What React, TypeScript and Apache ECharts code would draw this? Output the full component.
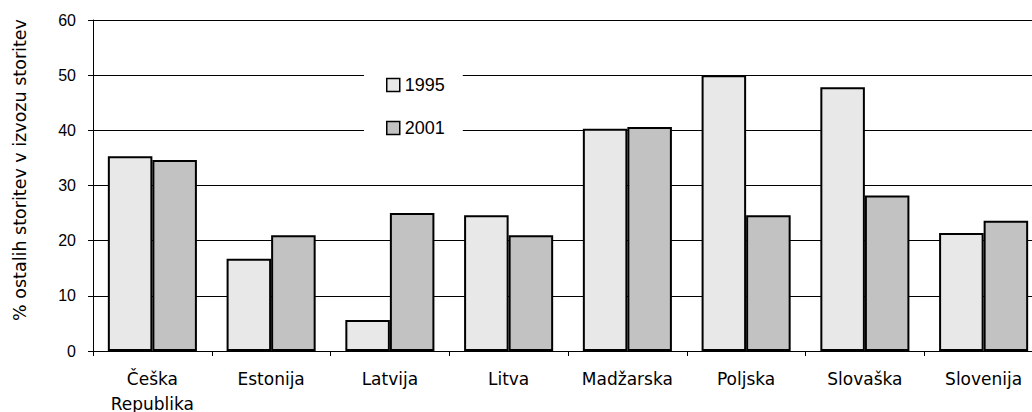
import React, { useEffect, useRef } from "react";
import * as echarts from "echarts";

const categories = ["Češka\nRepublika", "Estonija", "Latvija", "Litva", "Madžarska", "Poljska", "Slovaška", "Slovenija"];
const values1995 = [35.3, 16.7, 5.6, 24.6, 40.3, 50.0, 47.8, 21.4];
const values2001 = [34.6, 21.0, 25.0, 21.0, 40.6, 24.6, 28.2, 23.6];
const seriesNames = ["1995", "2001"];
const yTicks = { min: 0, max: 60, interval: 10 };
const yAxisTitle = "% ostalih storitev v izvozu storitev";

export default function App() {
  const ref = useRef<HTMLDivElement>(null);
  useEffect(() => {
    if (!ref.current) return;
    const chart = echarts.init(ref.current, null, { renderer: "svg" });
    chart.setOption({
      animation: false,
      backgroundColor: "#fff",
      grid: { left: 93, right: -11, top: 20, bottom: 61, containLabel: false, outerBoundsMode: "none" },
      legend: {
        data: seriesNames,
        orient: "vertical",
        left: 364,
        top: 62,
        padding: [14, 18, 14, 22],
        itemGap: 25,
        itemWidth: 13,
        itemHeight: 13,
        icon: "rect",
        backgroundColor: "#fff",
        textStyle: { fontFamily: "Liberation Sans", fontSize: 18, color: "#000" },
        itemStyle: { borderWidth: 1.5, borderColor: "#000" },
      },
      xAxis: {
        type: "category",
        data: categories,
        axisLine: { lineStyle: { color: "#000", width: 1 } },
        axisTick: { show: true, length: 5, alignWithLabel: false, lineStyle: { color: "#000" } },
        axisLabel: {
          interval: 0,
          margin: 15,
          color: "#000",
          fontFamily: "DejaVu Sans",
          fontSize: 17,
          lineHeight: 25,
        },
        splitLine: { show: false },
      },
      yAxis: {
        type: "value",
        min: yTicks.min,
        max: yTicks.max,
        interval: yTicks.interval,
        axisLine: { show: true, lineStyle: { color: "#000", width: 1 } },
        axisTick: { show: true, length: 5, lineStyle: { color: "#000" } },
        axisLabel: { margin: 17, color: "#000", fontFamily: "Liberation Sans", fontSize: 16 },
        splitLine: { show: true, lineStyle: { color: "#000", width: 1 } },
      },
      graphic: [
        {
          type: "text",
          x: 20,
          y: 170,
          rotation: Math.PI / 2,
          style: {
            text: yAxisTitle,
            fill: "#000",
            font: "17.5px 'DejaVu Sans'",
            textAlign: "center",
            textVerticalAlign: "middle",
          },
        },
      ],
      series: [
        {
          name: seriesNames[0],
          type: "bar",
          data: values1995,
          barGap: "0%",
          barCategoryGap: "25%",
          itemStyle: { color: "#e8e8e8", borderColor: "#000", borderWidth: 2 },
        },
        {
          name: seriesNames[1],
          type: "bar",
          data: values2001,
          barGap: "0%",
          barCategoryGap: "25%",
          itemStyle: { color: "#c2c2c2", borderColor: "#000", borderWidth: 2 },
        },
      ],
    });
    return () => chart.dispose();
  }, []);
  return (
    <div
      ref={ref}
      style={{ position: "absolute", left: 0, top: 0, width: 1032, height: 412 }}
    />
  );
}
